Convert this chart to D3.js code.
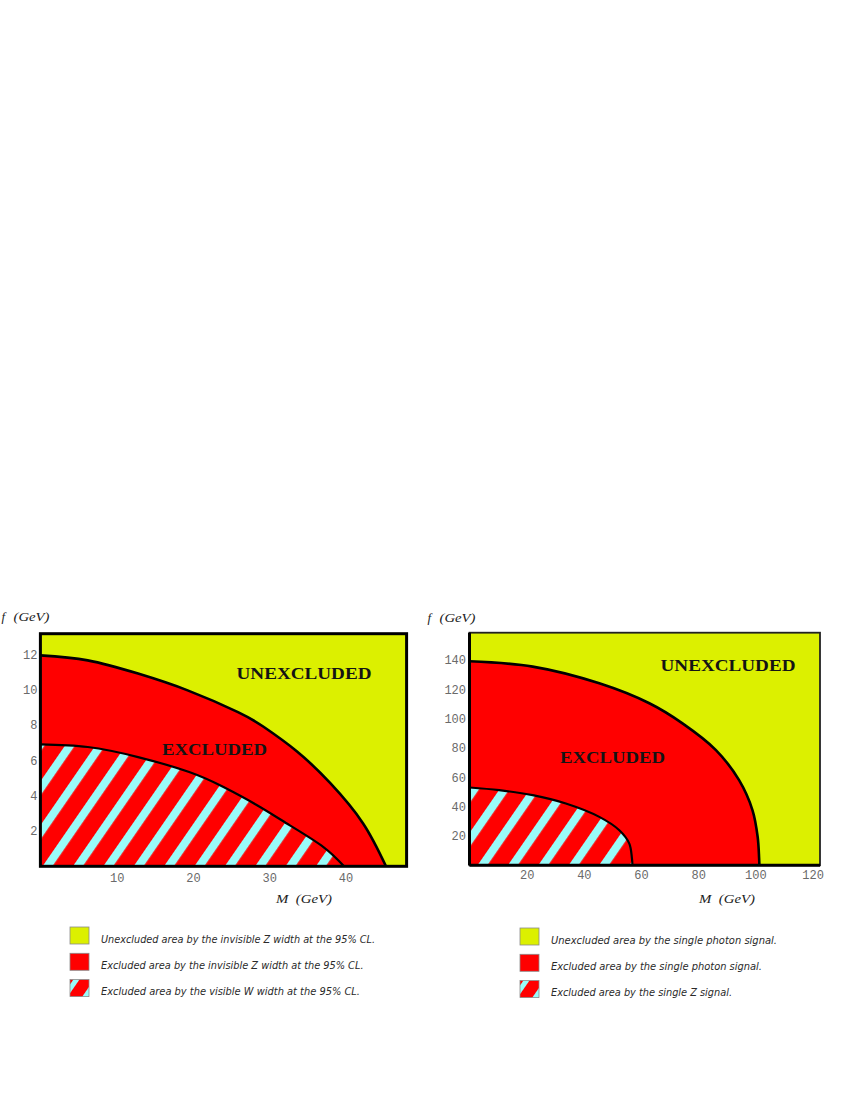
<!DOCTYPE html>
<html>
<head>
<meta charset="utf-8">
<script src="https://cdn.jsdelivr.net/npm/d3@7"></script>
<style>
  html, body { margin: 0; padding: 0; background: #ffffff; }
  svg { display: block; }
</style>
</head>
<body>
<svg id="chart" width="850" height="1100"></svg>
<script>
// ---------- DATA ----------
// Left panel: invisible Z width (outer) and visible W width (inner) boundaries
const leftOuterM = [0, 6.2, 12.8, 19.3, 25.9, 29.2, 33.6, 38.0, 42.3, 45.3];
const leftOuterF = [11.95, 11.67, 10.92, 9.97, 8.74, 7.92, 6.52, 4.71, 2.43, 0];
const leftInnerM = [0, 6.2, 12.8, 19.5, 24.0, 28.4, 32.7, 37.1, 39.8];
const leftInnerF = [6.91, 6.76, 6.19, 5.34, 4.49, 3.46, 2.32, 1.09, 0];
// Right panel: single photon (outer) and single Z (inner) boundaries
const rightOuterM = [0, 22.1, 45.4, 62.9, 74.5, 86.2, 94.3, 99.0, 100.8, 101.3, 101.4];
const rightOuterF = [139, 135.4, 124, 110.4, 96.7, 78.5, 58, 37.5, 19.3, 5, 0];
const rightInnerM = [0, 10.4, 22.1, 33.7, 45.4, 52.4, 55.9, 56.8, 57];
const rightInnerF = [53, 51.2, 47.8, 42.1, 33, 23.9, 14.8, 5, 0];

const leftXTicks = [10, 20, 30, 40];
const leftYTicks = [2, 4, 6, 8, 10, 12];
const rightXTicks = [20, 40, 60, 80, 100, 120];
const rightYTicks = [20, 40, 60, 80, 100, 120, 140];

const axisXTitle = "M  (GeV)";
const axisYTitleSym = "f";
const axisYTitleUnit = "(GeV)";
const regionLabels = ["UNEXCLUDED", "EXCLUDED"];
const leftLegend = [
  "Unexcluded area by the invisible Z width at the 95% CL.",
  "Excluded area by the invisible Z width at the 95% CL.",
  "Excluded area by the visible W width at the 95% CL."
];
const rightLegend = [
  "Unexcluded area by the single photon signal.",
  "Excluded area by the single photon signal.",
  "Excluded area by the single Z signal."
];

// ---------- STYLE ----------
const YELLOW = "#dcf000";
const RED = "#ff0000";
const CYAN = "#99fbf9";

const svg = d3.select("#chart");
const defs = svg.append("defs");

const theta = 34.6;
const P = 25.0;
const W = 8.2;
const ct = Math.cos(theta * Math.PI / 180), st = Math.sin(theta * Math.PI / 180);

function makePattern(id, ax, ay) {
  const u0 = ax * ct + ay * st;
  const off = ((u0 % P) + P) % P;
  const p = defs.append("pattern")
    .attr("id", id)
    .attr("patternUnits", "userSpaceOnUse")
    .attr("x", off).attr("y", 0)
    .attr("width", P).attr("height", 40)
    .attr("patternTransform", `rotate(${theta})`);
  p.append("rect").attr("width", P).attr("height", 40).attr("fill", RED);
  p.append("rect").attr("width", W).attr("height", 40).attr("fill", CYAN);
}

function panel(cfg) {
  const x = d3.scaleLinear().domain(cfg.xDomain).range(cfg.xRange);
  const y = d3.scaleLinear().domain(cfg.yDomain).range(cfg.yRange);
  const g = svg.append("g");
  const clipId = cfg.id + "-clip";
  defs.append("clipPath").attr("id", clipId).append("rect")
    .attr("x", cfg.xRange[0]).attr("y", cfg.yRange[1])
    .attr("width", cfg.xRange[1] - cfg.xRange[0])
    .attr("height", cfg.yRange[0] - cfg.yRange[1]);

  makePattern(cfg.id + "-hatch", cfg.hatchAnchor[0], cfg.hatchAnchor[1]);

  const plot = g.append("g").attr("clip-path", `url(#${clipId})`);
  plot.append("rect")
    .attr("x", cfg.xRange[0]).attr("y", cfg.yRange[1])
    .attr("width", cfg.xRange[1] - cfg.xRange[0])
    .attr("height", cfg.yRange[0] - cfg.yRange[1])
    .attr("fill", YELLOW);

  const line = d3.line().x(d => x(d[0])).y(d => y(d[1])).curve(cfg.curve);
  const outerPts = cfg.outerM.map((m, i) => [m, cfg.outerF[i]]);
  const innerPts = cfg.innerM.map((m, i) => [m, cfg.innerF[i]]);
  const close = `L${x(0)},${y(0)}Z`;

  plot.append("path").attr("d", line(outerPts) + close).attr("fill", RED);
  plot.append("path").attr("d", line(innerPts) + close)
    .attr("fill", `url(#${cfg.id}-hatch)`);
  plot.append("path").attr("d", line(outerPts)).attr("fill", "none")
    .attr("stroke", "#000").attr("stroke-width", 2.6);
  plot.append("path").attr("d", line(innerPts)).attr("fill", "none")
    .attr("stroke", "#000").attr("stroke-width", 2.2);

  // frame
  g.append("rect")
    .attr("x", cfg.xRange[0]).attr("y", cfg.yRange[1])
    .attr("width", cfg.xRange[1] - cfg.xRange[0])
    .attr("height", cfg.yRange[0] - cfg.yRange[1])
    .attr("fill", "none").attr("stroke", cfg.frameColor)
    .attr("stroke-width", cfg.frameWidth);
  if (cfg.axisLineWidth) {
    g.append("line").attr("x1", cfg.xRange[0]).attr("x2", cfg.xRange[0])
      .attr("y1", cfg.yRange[1]).attr("y2", cfg.yRange[0])
      .attr("stroke", "#000").attr("stroke-width", cfg.axisLineWidth);
    g.append("line").attr("x1", cfg.xRange[0]).attr("x2", cfg.xRange[1])
      .attr("y1", cfg.yRange[0]).attr("y2", cfg.yRange[0])
      .attr("stroke", "#000").attr("stroke-width", cfg.axisLineWidth);
  }

  // axes
  const ax = g.append("g").attr("transform", `translate(0,${cfg.yRange[0]})`)
    .call(d3.axisBottom(x).tickValues(cfg.xTicks).tickSize(0).tickPadding(cfg.xPad));
  const ay = g.append("g").attr("transform", `translate(${cfg.xRange[0]},0)`)
    .call(d3.axisLeft(y).tickValues(cfg.yTicks).tickSize(0).tickPadding(cfg.yPad));
  [ax, ay].forEach(a => {
    a.select(".domain").remove();
    a.selectAll("text").attr("font-family", "'Liberation Mono', 'DejaVu Sans Mono', monospace")
      .attr("font-size", 12).attr("fill", "#6a6a6a");
  });

  // axis titles
  const tf = "'Liberation Serif', 'DejaVu Serif', serif";
  g.append("text").attr("x", cfg.fTitle[0]).attr("y", cfg.fTitle[1])
    .attr("font-family", tf).attr("font-style", "italic").attr("font-size", 13)
    .attr("fill", "#222").text(axisYTitleSym);
  g.append("text").attr("x", cfg.fTitle[0] + 12).attr("y", cfg.fTitle[1])
    .attr("font-family", tf).attr("font-style", "italic").attr("font-size", 13)
    .attr("fill", "#222").attr("textLength", 36).attr("lengthAdjust", "spacingAndGlyphs")
    .text(axisYTitleUnit);
  g.append("text").attr("x", cfg.mTitle[0]).attr("y", cfg.mTitle[1])
    .attr("font-family", tf).attr("font-style", "italic").attr("font-size", 13)
    .attr("fill", "#222").attr("xml:space", "preserve")
    .attr("textLength", 56).attr("lengthAdjust", "spacingAndGlyphs")
    .text(axisXTitle);

  // region labels
  const lf = "'Liberation Serif', 'DejaVu Serif', serif";
  g.append("text").attr("x", cfg.unexLabel[0]).attr("y", cfg.unexLabel[1])
    .attr("font-family", lf).attr("font-weight", "bold").attr("font-size", 17.5)
    .attr("fill", "#141414").attr("textLength", 135).attr("lengthAdjust", "spacingAndGlyphs")
    .text(regionLabels[0]);
  g.append("text").attr("x", cfg.exLabel[0]).attr("y", cfg.exLabel[1])
    .attr("font-family", lf).attr("font-weight", "bold").attr("font-size", 17.5)
    .attr("fill", "#141414").attr("textLength", 105).attr("lengthAdjust", "spacingAndGlyphs")
    .text(regionLabels[1]);

  // legend
  const fills = [YELLOW, RED, `url(#${cfg.id}-lhatch)`];
  const lx = cfg.legend[0], ly = cfg.legend[1];
  const lp = defs.append("pattern").attr("id", cfg.id + "-lhatch")
    .attr("patternUnits", "userSpaceOnUse")
    .attr("x", ((((lx + 12) * ct + (ly + 2 * 26.5 + 17) * st) % 17) + 17) % 17)
    .attr("width", 17).attr("height", 30)
    .attr("patternTransform", `rotate(${theta})`);
  lp.append("rect").attr("width", 17).attr("height", 30).attr("fill", RED);
  lp.append("rect").attr("width", 5).attr("height", 30).attr("fill", CYAN);

  cfg.legendTexts.forEach((t, i) => {
    const yy = ly + i * 26.3;
    g.append("rect").attr("x", lx).attr("y", yy).attr("width", 19).attr("height", 17)
      .attr("fill", fills[i]).attr("stroke", "#8a8a8a").attr("stroke-width", 0.8);
    g.append("text").attr("x", lx + 31).attr("y", yy + 15.5)
      .attr("font-family", "'DejaVu Sans', 'Liberation Sans', sans-serif")
      .attr("font-style", "italic").attr("font-size", 10.4).attr("fill", "#2a2a2a")
      .attr("textLength", cfg.legendWidths[i]).attr("lengthAdjust", "spacingAndGlyphs")
      .text(t);
  });
}

panel({
  id: "left",
  xDomain: [0, 48], xRange: [40.4, 406.6],
  yDomain: [0, 13.18], yRange: [866.3, 633.7],
  outerM: leftOuterM, outerF: leftOuterF,
  innerM: leftInnerM, innerF: leftInnerF,
  curve: d3.curveNatural,
  hatchAnchor: [42.7, 866],
  frameColor: "#000", frameWidth: 3, axisLineWidth: 0,
  xTicks: leftXTicks, yTicks: leftYTicks, xPad: 7, yPad: 3,
  fTitle: [1.5, 621], mTitle: [276, 903],
  unexLabel: [236.5, 678.5], exLabel: [162, 754.5],
  legend: [70, 927], legendTexts: leftLegend, legendWidths: [274, 262.5, 259]
});

panel({
  id: "right",
  xDomain: [0, 122.6], xRange: [469.5, 820],
  yDomain: [0, 158.5], yRange: [865.3, 632.7],
  outerM: rightOuterM, outerF: rightOuterF,
  innerM: rightInnerM, innerF: rightInnerF,
  curve: d3.curveCatmullRom.alpha(0.5),
  hatchAnchor: [477.7, 865],
  frameColor: "#222", frameWidth: 1.8, axisLineWidth: 3,
  xTicks: rightXTicks, yTicks: rightYTicks, xPad: 5, yPad: 3.5,
  fTitle: [427.5, 622], mTitle: [699, 903],
  unexLabel: [660.5, 670.5], exLabel: [560, 763],
  legend: [520, 928], legendTexts: rightLegend, legendWidths: [226, 211, 181]
});
</script>
</body>
</html>
